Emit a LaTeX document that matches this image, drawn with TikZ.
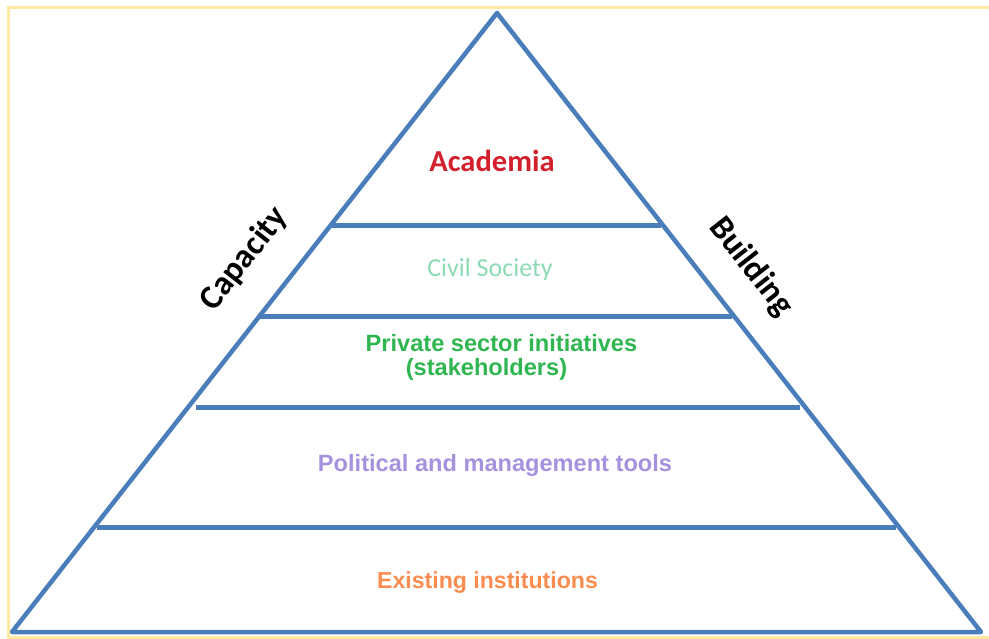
\documentclass[tikz,border=0pt]{standalone}
\usepackage{fontspec}
\setmainfont{Liberation Sans}
\newfontfamily\calib{Carlito}
\definecolor{pyrblue}{RGB}{74,126,187}
\definecolor{frameyel}{RGB}{255,233,160}
\definecolor{acred}{RGB}{210,32,44}
\definecolor{civgreen}{RGB}{140,218,180}
\definecolor{privgreen}{RGB}{48,182,80}
\definecolor{pollav}{RGB}{165,146,222}
\definecolor{exorange}{RGB}{250,140,80}
\begin{document}
\begin{tikzpicture}[x=1pt,y=-1pt,
  edge/.style={draw=pyrblue,line width=4.5pt,line join=round},
  tier/.style={draw=pyrblue,line width=5pt},
  armtext/.style={font=\fontsize{23.6}{28}\selectfont\bfseries,anchor=base,inner sep=0pt},
  sidetext/.style={font=\calib\fontsize{34}{40}\selectfont\bfseries,text=black,inner sep=0pt}]
\useasboundingbox (0,0) rectangle (989,639);
\draw[frameyel,line width=3pt] (992,8) -- (8,8) -- (8,637) -- (992,637);
% pyramid
\coordinate (apex) at (497,13);
\coordinate (bl) at (12,632);
\coordinate (br) at (981,632);
\draw[edge] (apex) -- (bl) -- (br) -- cycle;
% tiers
\coordinate (t1l) at (332,226); \coordinate (t1r) at (661,226);
\coordinate (t2l) at (260,317); \coordinate (t2r) at (732,317);
\coordinate (t3l) at (196,407); \coordinate (t3r) at (800,407);
\coordinate (t4l) at (97,527);  \coordinate (t4r) at (896,527);
\draw[tier] (t1l) -- (t1r);
\draw[tier] (t2l) -- (t2r);
\draw[tier] (t3l) -- (t3r);
\draw[tier] (t4l) -- (t4r);
% labels
\node[anchor=base,inner sep=0pt,text=acred,font=\calib\fontsize{30.5}{36}\selectfont\bfseries] (acad) at (492,172) {Academia};
\node[anchor=base,inner sep=0pt,text=civgreen,font=\calib\fontsize{26}{30}\selectfont] (civ) at (490,277) {Civil Society};
\node[armtext,text=privgreen] (priv) at (501.5,352) {Private sector initiatives};
\node[armtext,text=privgreen] (stake) at (486.5,375) {(stakeholders)};
\node[armtext,text=pollav] (pol) at (495,471) {Political and management tools};
\node[armtext,text=exorange,font=\fontsize{23.1}{28}\selectfont\bfseries] (exist) at (487.5,588) {Existing institutions};
\node[sidetext,rotate=52] (cap) at (244,259) {Capacity};
\node[sidetext,rotate=-52] (bld) at (751,267) {Building};
\end{tikzpicture}
\end{document}
